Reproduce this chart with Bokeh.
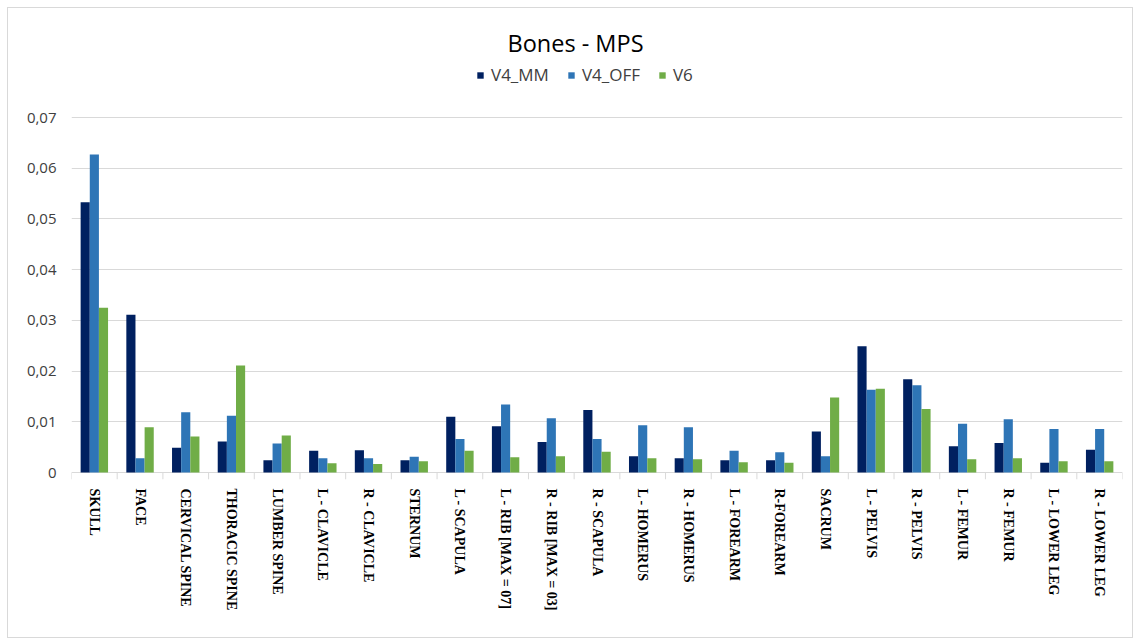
from bokeh.plotting import figure
from bokeh.models import (FactorRange, ColumnDataSource, Legend, LegendItem, Label,
                          FixedTicker, CustomJSTickFormatter, Range1d)
from bokeh.transform import dodge
from bokeh.embed import file_html
from bokeh.resources import INLINE

categories = ["SKULL", "FACE", "CERVICAL SPINE", "THORACIC SPINE", "LUMBER SPINE",
              "L - CLAVICLE", "R - CLAVICLE", "STERNUM", "L - SCAPULA",
              "L - RIB [MAX = 07]", "R - RIB [MAX = 03]", "R - SCAPULA",
              "L - HOMERUS", "R - HOMERUS", "L - FOREARM", "R-FOREARM", "SACRUM",
              "L - PELVIS", "R - PELVIS", "L - FEMUR", "R - FEMUR",
              "L - LOWER LEG", "R - LOWER LEG"]

v4_mm = [0.0533, 0.0311, 0.0049, 0.0061, 0.0024, 0.0043, 0.0044, 0.0024, 0.0110,
         0.0091, 0.0060, 0.0123, 0.0032, 0.0028, 0.0024, 0.0024, 0.0081,
         0.0249, 0.0184, 0.0052, 0.0058, 0.0019, 0.0045]
v4_off = [0.0627, 0.0028, 0.0119, 0.0112, 0.0057, 0.0028, 0.0028, 0.0031, 0.0066,
          0.0134, 0.0107, 0.0066, 0.0093, 0.0089, 0.0043, 0.0040, 0.0032,
          0.0163, 0.0172, 0.0096, 0.0105, 0.0086, 0.0086]
v6 = [0.0325, 0.0089, 0.0071, 0.0211, 0.0073, 0.0018, 0.0017, 0.0022, 0.0043,
      0.0030, 0.0032, 0.0041, 0.0028, 0.0026, 0.0020, 0.0019, 0.0148,
      0.0165, 0.0125, 0.0026, 0.0028, 0.0022, 0.0022]

series_names = ["V4_MM", "V4_OFF", "V6"]
colors = ["#002060", "#2E75B6", "#70AD47"]
y_ticks = [0, 0.01, 0.02, 0.03, 0.04, 0.05, 0.06, 0.07]

source = ColumnDataSource(dict(cat=categories, v4_mm=v4_mm, v4_off=v4_off, v6=v6))

# pixel scale: 355 px for 0.07; frame extends above the top gridline (title/legend)
# and a few px below zero (category separator ticks)
PX = 355 / 0.07
FW, FH = 1051, 459
Y0 = -7 / PX
Y1 = Y0 + FH / PX

p = figure(x_range=FactorRange(*categories, range_padding=0), y_range=Range1d(Y0, Y1),
           width=1124, height=629, frame_width=FW, frame_height=FH,
           min_border_left=63, min_border_right=10, min_border_top=12,
           min_border_bottom=158, output_backend="svg", toolbar_location=None,
           margin=(7, 0, 0, 7))
p.styles = {"border": "1px solid #d9d9d9"}

bw = 0.2
renderers = []
for i, (col, name, c) in enumerate(zip(["v4_mm", "v4_off", "v6"], series_names, colors)):
    r = p.vbar(x=dodge("cat", (i - 1) * bw, range=p.x_range), top=col, width=bw,
               source=source, fill_color=c, line_color=None)
    renderers.append((name, r))

# category separator ticks (Excel style) below the zero line
n = len(categories)
p.segment(x0=list(range(n + 1)), x1=list(range(n + 1)), y0=[0] * (n + 1),
          y1=[Y0] * (n + 1), line_color="#d9d9d9", line_width=1)

# axes
p.yaxis.ticker = FixedTicker(ticks=y_ticks)
p.yaxis.formatter = CustomJSTickFormatter(
    code="return tick == 0 ? '0' : tick.toFixed(2).replace('.', ',');")
p.yaxis.axis_line_color = None
p.yaxis.major_tick_line_color = None
p.yaxis.minor_tick_line_color = None
p.yaxis.major_label_text_font = "Open Sans"
p.yaxis.major_label_text_font_size = "15px"
p.yaxis.major_label_text_color = "#404040"
p.yaxis.major_label_standoff = 9

p.xaxis.axis_line_color = None
p.xaxis.major_tick_line_color = None
p.xaxis.major_label_orientation = "vertical"
p.xaxis.major_label_text_font = "Liberation Serif"
p.xaxis.major_label_text_font_style = "bold"
p.xaxis.major_label_text_font_size = "14px"
p.xaxis.major_label_text_color = "#000000"
p.xaxis.major_label_standoff = 3

p.xgrid.grid_line_color = None
p.ygrid.grid_line_color = "#d9d9d9"
p.ygrid.grid_line_width = 1
p.outline_line_color = None

# title
title = Label(x=504, y=437, x_units="screen", y_units="screen", text="Bones - MPS",
              text_font="Open Sans", text_font_size="23.5px", text_color="#000000",
              text_align="center", text_baseline="middle")
p.add_layout(title)

legend = Legend(items=[LegendItem(label=nm, renderers=[r]) for nm, r in renderers],
                orientation="horizontal", location=(405, 393),
                label_text_font="Open Sans", label_text_font_size="17px",
                label_text_color="#404040", glyph_width=8, glyph_height=8,
                label_standoff=7, spacing=18, padding=0, margin=0,
                border_line_color=None, background_fill_alpha=0)
p.add_layout(legend)

open("out.html", "w").write(file_html(p, INLINE))
